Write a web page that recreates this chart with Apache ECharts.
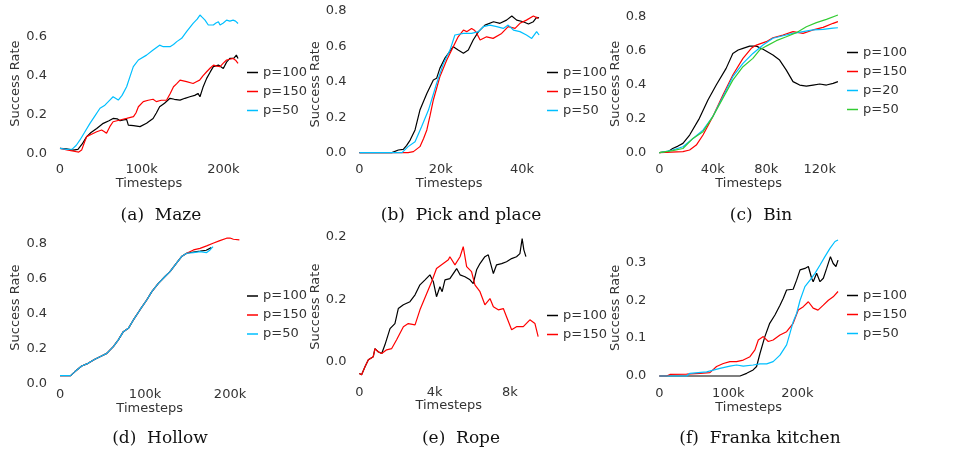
<!DOCTYPE html>
<html><head><meta charset="utf-8">
<script src="https://cdn.jsdelivr.net/npm/echarts@6/dist/echarts.min.js"></script>
<style>html,body{margin:0;padding:0;background:#fff}#c{width:970px;height:454px}</style>
</head><body><div id="c"></div>
<script>
// ---- data (x in thousands of timesteps, y = success rate) ----
const mazeP100 = [[0,0.029],[8,0.027],[16,0.02],[22,0.024],[27,0.05],[32.7,0.089],[38,0.11],[45,0.131],[53,0.157],[60,0.17],[65,0.182],[67,0.191],[70,0.18],[73.5,0.17],[78,0.175],[81.6,0.177],[83.7,0.148],[90,0.145],[98,0.14],[106,0.157],[114,0.182],[118,0.21],[122,0.242],[128,0.26],[134.7,0.285],[140,0.28],[147,0.276],[153,0.285],[159,0.293],[165,0.3],[169,0.31],[171.4,0.293],[175,0.34],[179.6,0.387],[184,0.42],[187.8,0.447],[194,0.455],[200,0.438],[204,0.47],[208,0.489],[213,0.49],[216,0.506],[218,0.489]];
const mazeP150 = [[0,0.029],[10,0.02],[20,0.012],[23,0.01],[26.5,0.02],[30,0.06],[32.7,0.089],[38,0.1],[45,0.114],[51,0.123],[54,0.115],[57,0.106],[61,0.14],[65,0.165],[73.5,0.174],[81.6,0.182],[90,0.191],[93,0.21],[96,0.242],[102,0.268],[108,0.275],[114,0.28],[118,0.268],[124,0.275],[130.6,0.276],[135,0.31],[139,0.344],[143,0.36],[147,0.378],[155,0.37],[163,0.361],[167,0.37],[171,0.378],[175,0.4],[179.6,0.421],[184,0.44],[188,0.455],[192,0.45],[196,0.447],[200,0.465],[204,0.481],[208,0.485],[212,0.489],[215,0.48],[218,0.464]];
const mazeP50 = [[0,0.029],[8,0.024],[15,0.025],[20,0.045],[24.5,0.072],[30,0.11],[36.7,0.157],[42,0.19],[49,0.234],[55,0.25],[61,0.276],[65,0.293],[68,0.285],[71.4,0.276],[76,0.3],[81.6,0.344],[86,0.4],[89.8,0.447],[96,0.481],[106,0.506],[114,0.532],[122,0.557],[126.5,0.549],[134.7,0.549],[139,0.56],[143,0.575],[149,0.592],[155,0.626],[163,0.668],[168,0.69],[171.4,0.711],[174,0.7],[177.6,0.685],[181.6,0.66],[187.8,0.66],[191,0.67],[194,0.677],[196,0.66],[200,0.67],[204,0.685],[208,0.68],[212,0.685],[215,0.68],[218,0.668]];

const pickP100 = [[0,0],[8,0],[9.6,0.015],[10.8,0.019],[11.6,0.04],[12.5,0.071],[13.7,0.128],[14.9,0.24],[15.8,0.29],[16.6,0.334],[18.2,0.41],[19,0.419],[19.8,0.475],[21,0.531],[21.9,0.56],[23.1,0.597],[24.3,0.578],[25.6,0.56],[26.8,0.578],[28,0.635],[29.3,0.682],[30.9,0.719],[33,0.738],[34.6,0.729],[36.2,0.747],[37.5,0.77],[38.7,0.747],[40.3,0.738],[41.6,0.725],[42.8,0.738],[43.6,0.762],[44.2,0.76]];
const pickP150 = [[0,0],[12,0],[13.3,0.006],[14.9,0.034],[15.8,0.08],[16.6,0.128],[17.4,0.21],[18.2,0.297],[19.8,0.428],[21.5,0.522],[23.1,0.597],[24.3,0.653],[25.6,0.691],[26.4,0.682],[27.6,0.70],[28.3,0.69],[28.9,0.672],[29.7,0.635],[31.3,0.653],[32.9,0.644],[35,0.672],[36.6,0.71],[38.3,0.70],[39.5,0.729],[41.1,0.747],[42.8,0.77],[44,0.757]];
const pickP50 = [[0,0],[10.5,0],[12,0.034],[13.7,0.062],[15.3,0.146],[17,0.24],[19,0.39],[20.7,0.503],[22.3,0.578],[23.5,0.663],[25.6,0.672],[27.6,0.672],[29.3,0.682],[30.5,0.71],[32.1,0.719],[33.8,0.71],[35.4,0.70],[36.6,0.719],[37.9,0.691],[39.5,0.682],[41.1,0.663],[42.4,0.644],[43.6,0.682],[44.2,0.663]];

const binP100 = [[0,0],[6.5,0.006],[10,0.025],[14,0.039],[17.7,0.055],[22.7,0.104],[30,0.202],[36.4,0.31],[42.6,0.398],[50,0.496],[55,0.584],[59,0.604],[62.6,0.614],[67.6,0.627],[72.6,0.627],[77.6,0.608],[85,0.575],[90,0.545],[95,0.486],[100,0.418],[105,0.398],[110,0.392],[115,0.398],[120,0.404],[125,0.398],[130,0.408],[133.6,0.418]];
const binP150 = [[0,0],[17.7,0.006],[22.7,0.016],[27.7,0.045],[32.7,0.104],[40,0.212],[47.6,0.339],[55,0.457],[62.6,0.555],[68.8,0.614],[72.6,0.633],[80,0.653],[85,0.676],[92.5,0.692],[100,0.712],[107.5,0.702],[115,0.722],[122.5,0.737],[130,0.761],[133.6,0.771]];
const binP20 = [[0,0],[10,0.016],[17.7,0.035],[25.2,0.084],[32.7,0.133],[40,0.212],[47.6,0.329],[55,0.447],[62.6,0.525],[70,0.584],[77.6,0.633],[85,0.673],[92.5,0.688],[100,0.702],[107.5,0.712],[115,0.722],[122.5,0.725],[130,0.733],[133.6,0.735]];
const binP50 = [[0,0],[10,0.012],[17.7,0.025],[25.2,0.084],[32.7,0.124],[40,0.212],[47.6,0.32],[55,0.427],[62.6,0.506],[70,0.555],[75,0.604],[80,0.627],[87.5,0.659],[95,0.682],[102.5,0.706],[110,0.741],[117.5,0.765],[125,0.784],[133.6,0.81]];

const hollowP100 = [[0,0.044],[12.5,0.044],[17.6,0.067],[25.5,0.099],[33,0.114],[41,0.137],[47,0.152],[55,0.171],[62.7,0.21],[68.6,0.248],[74.5,0.295],[80.4,0.314],[86.3,0.362],[94,0.419],[102,0.476],[108,0.524],[115.7,0.571],[123.5,0.61],[129.4,0.638],[137,0.686],[143,0.724],[149,0.743],[157,0.75],[165,0.755],[172,0.76],[178,0.775]];
const hollowP150 = [[0,0.044],[12.5,0.044],[17.6,0.067],[25.5,0.099],[33,0.114],[41,0.137],[47,0.152],[55,0.171],[62.7,0.21],[68.6,0.248],[74.5,0.295],[80.4,0.314],[86.3,0.362],[94,0.419],[102,0.476],[108,0.524],[115.7,0.571],[123.5,0.61],[129.4,0.638],[137,0.686],[143,0.724],[149,0.743],[157,0.762],[164.7,0.771],[172.5,0.785],[180,0.80],[188,0.815],[196,0.829],[200,0.83],[204,0.823],[211,0.819]];
const hollowP50 = [[0,0.044],[12.5,0.044],[17.6,0.067],[25.5,0.099],[33,0.114],[41,0.137],[47,0.152],[55,0.171],[62.7,0.21],[68.6,0.248],[74.5,0.295],[80.4,0.314],[86.3,0.362],[94,0.419],[102,0.476],[108,0.524],[115.7,0.571],[123.5,0.61],[129.4,0.638],[137,0.686],[143,0.724],[149,0.743],[157,0.747],[164.7,0.752],[172.5,0.747],[176.5,0.762],[180,0.781]];

const ropeP100 = [[0,-0.019],[0.12,-0.021],[0.3,-0.008],[0.48,0.003],[0.57,0.0],[0.74,0.008],[0.83,0.021],[1.0,0.016],[1.19,0.013],[1.36,0.027],[1.63,0.053],[1.89,0.061],[2.07,0.085],[2.34,0.091],[2.69,0.096],[2.96,0.107],[3.22,0.123],[3.49,0.131],[3.75,0.139],[3.93,0.128],[4.1,0.104],[4.28,0.12],[4.4,0.112],[4.55,0.131],[4.81,0.133],[4.99,0.141],[5.17,0.149],[5.35,0.139],[5.61,0.136],[5.88,0.131],[6.05,0.125],[6.23,0.147],[6.41,0.157],[6.67,0.168],[6.85,0.171],[7.12,0.141],[7.29,0.155],[7.56,0.157],[7.82,0.16],[8.09,0.165],[8.35,0.168],[8.53,0.173],[8.65,0.197],[8.74,0.179],[8.85,0.168]];
const ropeP150 = [[0,-0.019],[0.12,-0.021],[0.3,-0.008],[0.48,0.003],[0.57,0.0],[0.74,0.008],[0.83,0.021],[1.0,0.016],[1.19,0.013],[1.45,0.019],[1.72,0.021],[1.98,0.035],[2.34,0.056],[2.6,0.061],[2.96,0.059],[3.22,0.083],[3.58,0.109],[3.84,0.128],[4.1,0.149],[4.37,0.155],[4.73,0.163],[4.81,0.168],[5.08,0.155],[5.35,0.168],[5.52,0.184],[5.7,0.152],[5.96,0.144],[6.14,0.123],[6.41,0.112],[6.67,0.091],[6.94,0.101],[7.12,0.088],[7.38,0.083],[7.65,0.085],[7.82,0.072],[8.09,0.051],[8.35,0.056],[8.71,0.056],[9.06,0.067],[9.33,0.061],[9.5,0.04]];

const frankaP100 = [[0,0],[117,0],[126.6,0.007],[136,0.016],[141,0.025],[146,0.06],[153,0.104],[160,0.139],[167.6,0.161],[174.9,0.187],[179.7,0.205],[184.5,0.227],[194,0.229],[199,0.253],[204,0.28],[211,0.284],[216,0.289],[220.8,0.258],[223,0.249],[228,0.271],[232.9,0.249],[237.7,0.258],[242.5,0.284],[248,0.315],[252,0.297],[256,0.289],[259,0.306]];
const frankaP150 = [[0,0],[10.6,0],[15.5,0.004],[39.6,0.005],[59,0.007],[73.4,0.009],[83,0.025],[92.8,0.033],[102.4,0.038],[112,0.038],[121.7,0.042],[131.4,0.051],[138.6,0.069],[143.5,0.095],[150.7,0.104],[158,0.091],[165,0.095],[174.9,0.108],[184.5,0.117],[194,0.139],[201.4,0.174],[208.7,0.183],[216,0.196],[223,0.179],[230,0.174],[237.7,0.187],[245,0.2],[252,0.209],[259,0.223]];
const frankaP50 = [[0,0],[39.6,0],[44.4,0.007],[68.6,0.011],[87.9,0.02],[102.4,0.026],[112,0.029],[121.7,0.026],[136,0.029],[146,0.032],[155.6,0.032],[165,0.038],[174.9,0.055],[184.5,0.082],[189.4,0.113],[194,0.143],[199,0.165],[204,0.2],[211,0.236],[218.4,0.253],[225.6,0.271],[232.9,0.293],[240,0.315],[247.3,0.337],[254.6,0.355],[259,0.359]];

// tick values / labels
const mazeXTicks = [0,100,200], mazeYTicks = [0,0.2,0.4,0.6];
const pickXTicks = [0,20,40], pickYTicks = [0,0.2,0.4,0.6,0.8];
const binXTicks = [0,40,80,120], binYTicks = [0,0.2,0.4,0.6,0.8];
const hollowXTicks = [0,100,200], hollowYTicks = [0,0.2,0.4,0.6,0.8];
const ropeXTicks = [0,4,8], ropeYTicks = [0,0.1,0.2], ropeYLabels = ['0.0','0.2','0.2'];
const frankaXTicks = [0,100,200], frankaYTicks = [0,0.1,0.2,0.3];
const captions = ['(a)  Maze','(b)  Pick and place','(c)  Bin','(d)  Hollow','(e)  Rope','(f)  Franka kitchen'];

const C_BLACK='#000000', C_RED='#ff0000', C_BLUE='#00bfff', C_GREEN='#33cc33';
const TXT='#333333', FONT='DejaVu Sans';

const panels = [
  {grid:{left:51,top:8.4,width:196,height:150.5}, x:[-11,229], y:[-0.025,0.745], xt:mazeXTicks, yt:mazeYTicks,
   series:[['p=100',mazeP100,C_BLACK],['p=150',mazeP150,C_RED],['p=50',mazeP50,C_BLUE]], leg:{left:242,top:61}, cap:[161,216]},
  {grid:{left:350.4,top:9.2,width:197.6,height:150.3}, x:[-2.2,46.4], y:[-0.0385,0.8085], xt:pickXTicks, yt:pickYTicks,
   series:[['p=100',pickP100,C_BLACK],['p=150',pickP150,C_RED],['p=50',pickP50,C_BLUE]], leg:{left:542,top:61}, cap:[461,216]},
  {grid:{left:650.3,top:8.1,width:196.6,height:151.5}, x:[-6.7,140.3], y:[-0.0405,0.8505], xt:binXTicks, yt:binYTicks,
   series:[['p=100',binP100,C_BLACK],['p=150',binP150,C_RED],['p=20',binP20,C_BLUE],['p=50',binP50,C_GREEN]], leg:{left:842,top:41}, cap:[761,216]},
  {grid:{left:51.1,top:231.2,width:197.2,height:152.8}, x:[-10.5,221.5], y:[-0.004,0.869], xt:hollowXTicks, yt:hollowYTicks,
   series:[['p=100',hollowP100,C_BLACK],['p=150',hollowP150,C_RED],['p=50',hollowP50,C_BLUE]], leg:{left:242,top:284.5}, cap:[160,439]},
  {grid:{left:350.4,top:231.7,width:196.7,height:150}, x:[-0.475,9.975], y:[-0.032,0.208], xt:ropeXTicks, yt:ropeYTicks, yl:ropeYLabels,
   series:[['p=100',ropeP100,C_BLACK],['p=150',ropeP150,C_RED]], leg:{left:542,top:304}, cap:[461,439]},
  {grid:{left:650.3,top:232.8,width:196.7,height:150}, x:[-13,272], y:[-0.018,0.378], xt:frankaXTicks, yt:frankaYTicks,
   series:[['p=100',frankaP100,C_BLACK],['p=150',frankaP150,C_RED],['p=50',frankaP50,C_BLUE]], leg:{left:842,top:284}, cap:[760,439]}
];

const option = {animation:false, backgroundColor:'#fff', grid:[], xAxis:[], yAxis:[], series:[], legend:[], graphic:[]};
panels.forEach((p,i)=>{
  option.grid.push(p.grid);
  option.xAxis.push({type:'value', gridIndex:i, min:p.x[0], max:p.x[1],
    name:'Timesteps', nameLocation:'middle', nameGap:17, nameTextStyle:{color:TXT,fontSize:13,fontFamily:FONT},
    axisLine:{show:false}, axisTick:{show:false}, splitLine:{show:false},
    axisLabel:{customValues:p.xt, color:TXT, fontSize:13, fontFamily:FONT, margin:4,
      formatter:v=> v===0?'0':(Math.round(v)+'k')}});
  option.yAxis.push({type:'value', gridIndex:i, min:p.y[0], max:p.y[1],
    name:'Success Rate', nameLocation:'middle', nameGap:28, nameTextStyle:{color:TXT,fontSize:13,fontFamily:FONT},
    axisLine:{show:false}, axisTick:{show:false}, splitLine:{show:false},
    axisLabel:{customValues:p.yt, color:TXT, fontSize:13, fontFamily:FONT, margin:4,
      formatter:v=>{ if(p.yl){ const k=p.yt.findIndex(t=>Math.abs(t-v)<1e-9); return k>=0?p.yl[k]:''; } return v.toFixed(1);} }});
  const names=[];
  p.series.forEach(s=>{
    const id = 'g'+i+'_'+s[0];
    names.push({name:id, itemStyle:{color:s[2]}});
    option.series.push({type:'line', name:id, xAxisIndex:i, yAxisIndex:i, data:s[1], showSymbol:false,
      lineStyle:{color:s[2], width:1.2}, itemStyle:{color:s[2]}, z:2});
  });
  option.legend.push({orient:'vertical', left:p.leg.left, top:p.leg.top, data:names.map(n=>n.name), selectedMode:false,
    icon:'rect', itemWidth:11, itemHeight:1.5, itemGap:6,
    formatter:n=>n.split('_')[1], textStyle:{color:TXT,fontSize:13,fontFamily:FONT, padding:[0,0,0,0]}});
  option.graphic.push({type:'text', x:p.cap[0], y:p.cap[1], style:{text:captions[i], align:'center', verticalAlign:'middle',
    font:'17px "DejaVu Serif"', fill:'#111'}});
});
const chart = echarts.init(document.getElementById('c'), null, {renderer:'canvas'});
chart.setOption(option);
</script></body></html>
